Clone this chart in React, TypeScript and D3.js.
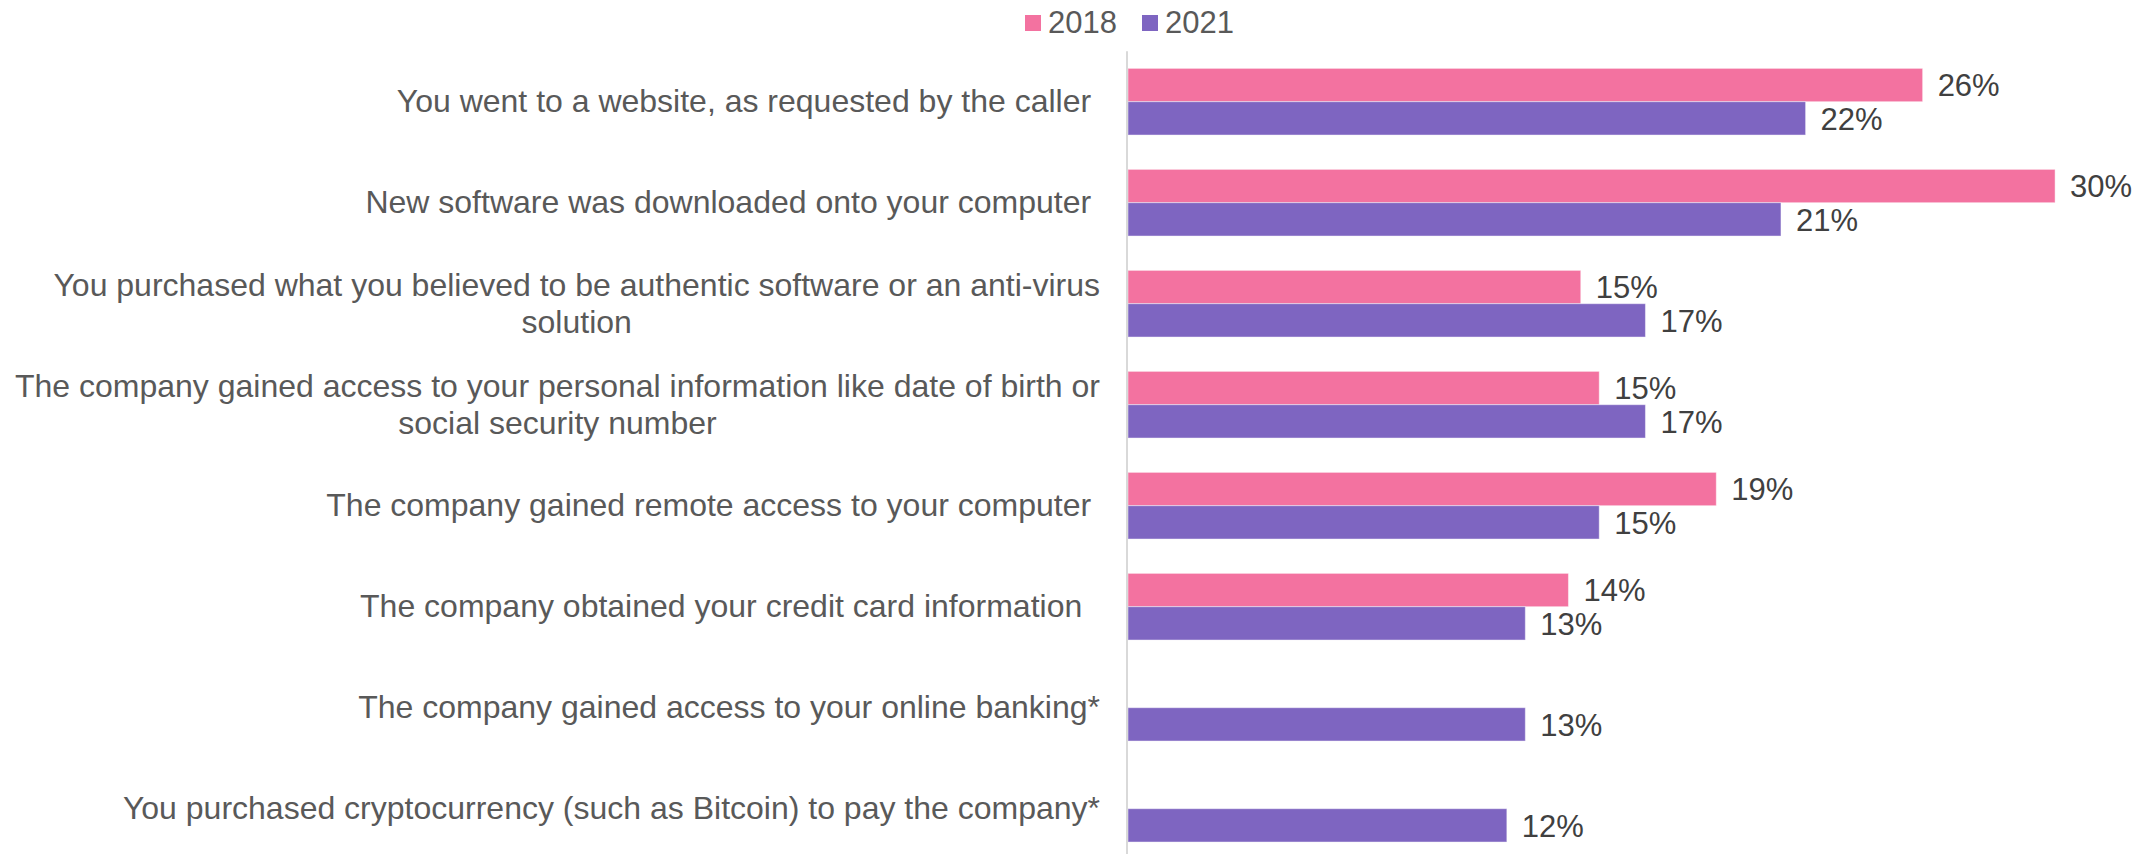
import React from 'react';
import * as d3 from 'd3';

const width = 2156;
const height = 854;
const plot = { top: 51.2, bottom: 859.2, left: 1128, pxPerPct: 30.8 };
const labelRight = 1100;
const pink = '#f372a0';
const purple = '#7e65c1';
const font = '"Liberation Sans", Arial, sans-serif';

// category labels (\n = line break in the original)
const categories = [
  'You went to a website, as requested by the caller ',
  'New software was downloaded onto your computer ',
  'You purchased what you believed to be authentic software or an anti-virus\nsolution',
  'The company gained access to your personal information like date of birth or\nsocial security number',
  'The company gained remote access to your computer ',
  'The company obtained your credit card information  ',
  'The company gained access to your online banking*',
  'You purchased cryptocurrency (such as Bitcoin) to pay the company*',
];
const years = ['2018', '2021'];
const values2018 = [25.8, 30.1, 14.7, 15.3, 19.1, 14.3, null, null];
const values2021 = [22.0, 21.2, 16.8, 16.8, 15.3, 12.9, 12.9, 12.3];
const colors = { '2018': pink, '2021': purple };

let ctx: CanvasRenderingContext2D | null = null;
const measure = (s: string, size: number) => {
  if (!ctx) ctx = document.createElement('canvas').getContext('2d');
  if (!ctx) return s.length * size * 0.5;
  ctx.font = `${size}px "Liberation Sans", Arial, sans-serif`;
  return ctx.measureText(s).width;
};

export default function App() {
  const yScale = d3.scaleBand<string>()
    .domain(categories)
    .range([plot.top, plot.bottom])
    .paddingInner(0.34)
    .paddingOuter(0.17);
  const ySub = d3.scaleBand<string>().domain(years).range([0, yScale.bandwidth()]);
  const xScale = d3.scaleLinear().domain([0, 35]).range([plot.left, plot.left + 35 * plot.pxPerPct]);
  const fmt = (v: number) => d3.format('.0f')(v) + '%';

  const series = [
    { year: '2018', values: values2018 },
    { year: '2021', values: values2021 },
  ];

  const catSize = 32;
  const valSize = 31;
  const lineH = 37;

  return (
    <svg width={width} height={height} style={{ position: 'absolute', left: 0, top: 0 }} fontFamily={font}>
      {/* legend */}
      {years.map((yr, i) => (
        <g key={yr} transform={`translate(${1025 + i * 117}, 0)`}>
          <rect x={0} y={15} width={16} height={16} fill={colors[yr]} />
          <text x={23} y={32.5} fontSize={31} fill="#595959">{yr}</text>
        </g>
      ))}

      {/* bars */}
      {series.map(s => (
        <g key={s.year}>
          {s.values.map((v, i) => v == null ? null : (
            <g key={i}>
              <rect
                x={xScale(0)}
                y={yScale(categories[i])! + ySub(s.year)!}
                width={xScale(v) - xScale(0)}
                height={ySub.bandwidth()}
                fill={colors[s.year]}
                stroke="#ffffff"
                strokeOpacity={0.45}
                strokeWidth={1}
              />
              <text
                x={xScale(v) + 15}
                y={yScale(categories[i])! + ySub(s.year)! + ySub.bandwidth() / 2 + valSize * 0.36}
                fontSize={valSize}
                fill="#404040"
              >{fmt(v)}</text>
            </g>
          ))}
        </g>
      ))}

      {/* axis line */}
      <line x1={xScale(0) - 1} x2={xScale(0) - 1} y1={plot.top} y2={plot.bottom} stroke="#d9d9d9" strokeWidth={2} />

      {/* category labels */}
      {categories.map(c => {
        const lines = c.split('\n');
        const cy = yScale(c)! + yScale.bandwidth() / 2;
        const w = d3.max(lines, l => measure(l, catSize)) || 0;
        const multi = lines.length > 1;
        return (
          <text
            key={c}
            fontSize={catSize}
            fill="#595959"
            textAnchor={multi ? 'middle' : 'end'}
            style={{ whiteSpace: 'pre' }}
          >
            {lines.map((l, j) => (
              <tspan
                key={j}
                x={multi ? labelRight - w / 2 : labelRight}
                y={cy + catSize * 0.33 + (j - (lines.length - 1) / 2) * lineH}
              >{l}</tspan>
            ))}
          </text>
        );
      })}
    </svg>
  );
}
